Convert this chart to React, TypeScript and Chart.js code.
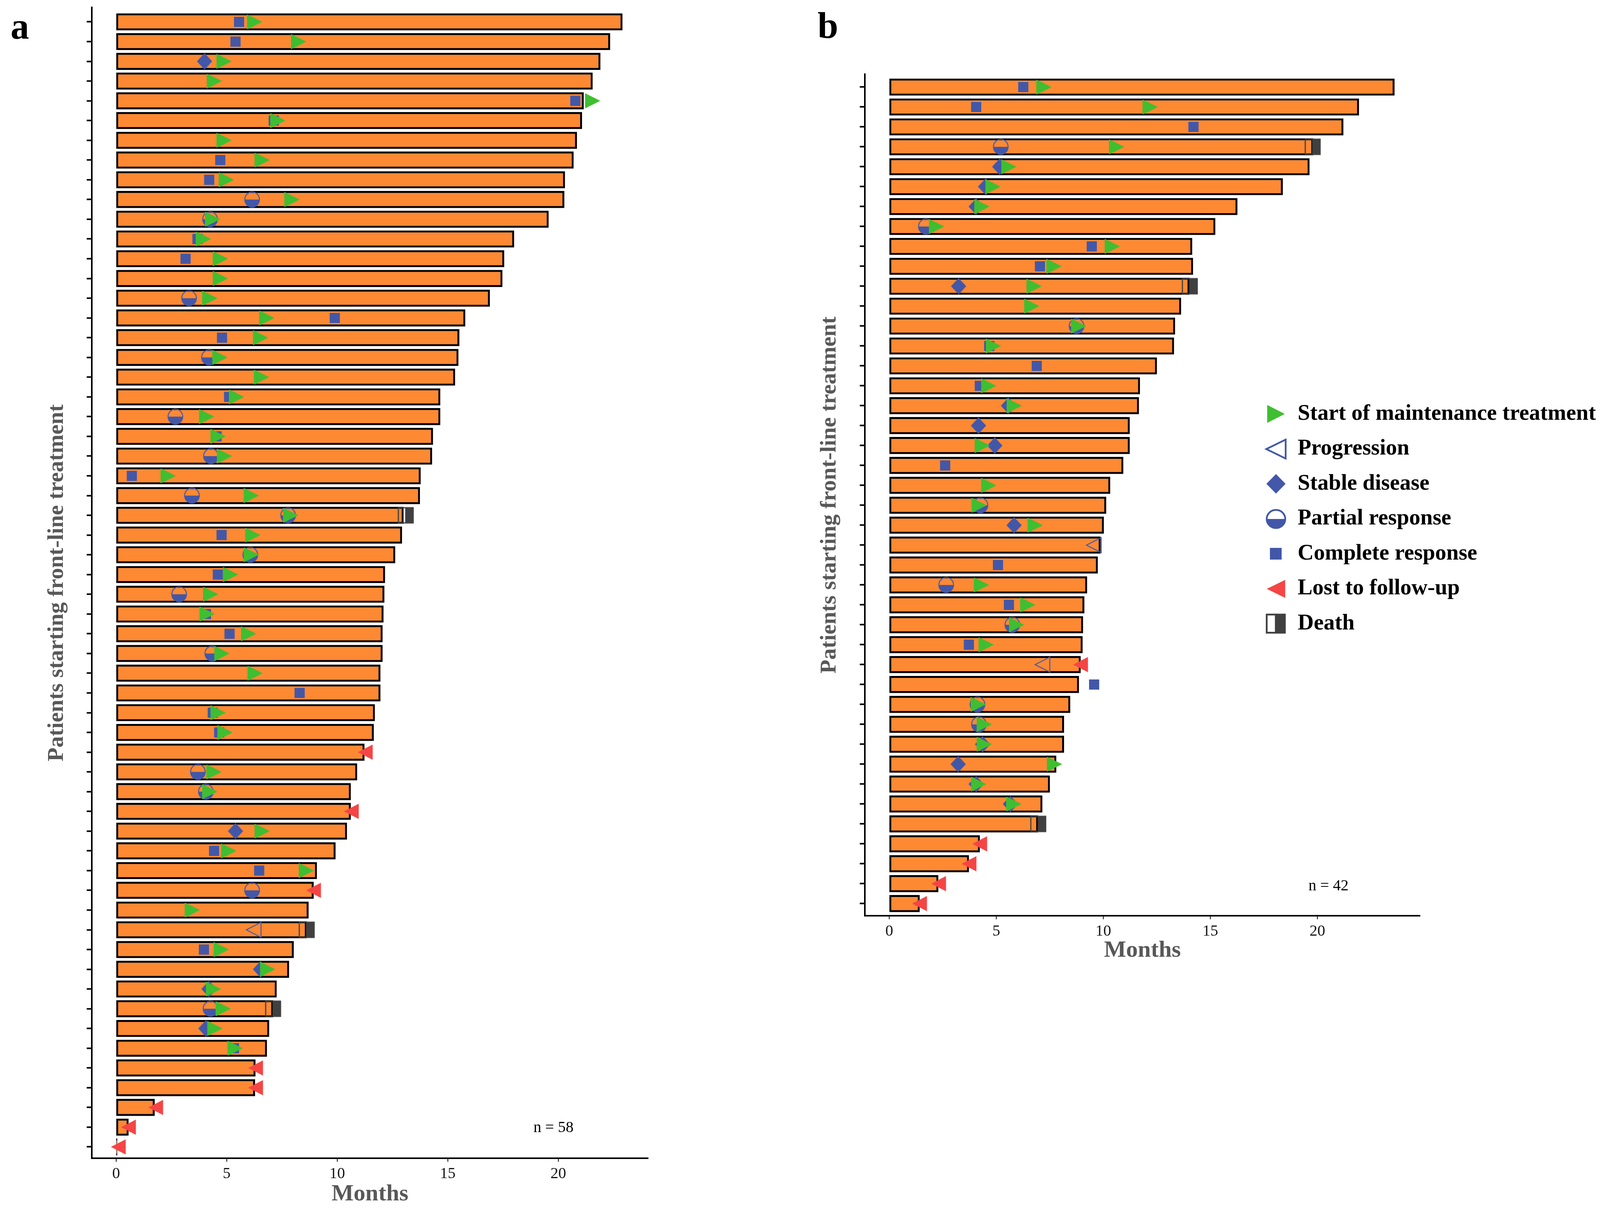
import React, { useEffect, useRef } from 'react';
import { Chart, registerables } from 'chart.js';

Chart.register(...registerables);

type Pt = [number, number]; // [patient row, months]

const X_TICKS = [0, 5, 10, 15, 20];

// ---------------- Panel a (n = 58) ----------------
const A_END = [22.9, 22.34, 21.9, 21.55, 21.15, 21.07, 20.84, 20.69, 20.3, 20.27,
  19.56, 18.0, 17.55, 17.47, 16.9, 15.79, 15.52, 15.48, 15.33, 14.66,
  14.66, 14.33, 14.29, 13.77, 13.74, 13.0, 12.93, 12.62, 12.16, 12.13,
  12.09, 12.05, 12.05, 11.95, 11.95, 11.7, 11.65, 11.23, 10.9, 10.61,
  10.61, 10.44, 9.92, 9.08, 8.93, 8.7, 8.62, 8.03, 7.82, 7.26,
  7.1, 6.92, 6.82, 6.3, 6.28, 1.74, 0.56, 0.05];
const A_START_MAINT: Pt[] = [[1, 6.15], [2, 8.14], [3, 4.77], [4, 4.33], [5, 21.44], [6, 7.2], [7, 4.77], [8, 6.49], [9, 4.87], [10, 7.84],
  [11, 4.25], [12, 3.83], [13, 4.6], [14, 4.6], [15, 4.12], [16, 6.7], [17, 6.42], [18, 4.58], [19, 6.46], [20, 5.33],
  [21, 3.98], [22, 4.5], [23, 4.79], [24, 2.24], [25, 6.0], [26, 7.78], [27, 6.07], [28, 6.0], [29, 5.06], [30, 4.16],
  [31, 4.0], [32, 5.88], [33, 4.67], [34, 6.17], [36, 4.5], [37, 4.81], [39, 4.31], [40, 4.12], [42, 6.49], [43, 4.98],
  [44, 8.49], [46, 3.33], [48, 4.64], [49, 6.74], [50, 4.29], [51, 4.73], [52, 4.35], [53, 5.27]];
const A_COMPLETE: Pt[] = [[1, 5.56], [2, 5.4], [5, 20.77], [6, 7.13], [8, 4.71], [9, 4.21], [12, 3.68], [13, 3.14], [16, 9.89], [17, 4.79],
  [20, 5.11], [22, 4.54], [24, 0.71], [27, 4.77], [29, 4.6], [31, 4.06], [32, 5.13], [35, 8.3], [36, 4.37], [37, 4.66],
  [43, 4.43], [44, 6.47], [48, 3.97], [53, 5.33]];
const A_PARTIAL: Pt[] = [[10, 6.15], [11, 4.25], [15, 3.3], [18, 4.2], [21, 2.68], [23, 4.29], [25, 3.43], [26, 7.78], [28, 6.07], [30, 2.85],
  [33, 4.35], [39, 3.7], [40, 4.06], [45, 6.15], [51, 4.27]];
const A_STABLE: Pt[] = [[3, 4.0], [42, 5.4], [49, 6.53], [50, 4.2], [52, 4.06]];
const A_PROGRESSION: Pt[] = [[47, 6.34]];
const A_LOST: Pt[] = [[38, 11.38], [41, 10.75], [45, 9.04], [54, 6.42], [55, 6.42], [56, 1.9], [57, 0.67], [58, 0.21]];
const A_DEATH: Pt[] = [[26, 13.1], [47, 8.62], [51, 7.1]];

// ---------------- Panel b (n = 42) ----------------
const B_END = [23.6, 21.94, 21.21, 19.8, 19.63, 18.38, 16.26, 15.23, 14.15, 14.19,
  14.02, 13.63, 13.35, 13.3, 12.5, 11.71, 11.66, 11.23, 11.23, 10.93,
  10.32, 10.13, 10.02, 9.87, 9.74, 9.24, 9.11, 9.05, 9.03, 8.94,
  8.86, 8.45, 8.16, 8.16, 7.8, 7.5, 7.15, 6.95, 4.23, 3.72,
  2.29, 1.42];
const B_START_MAINT: Pt[] = [[1, 7.11], [2, 12.07], [4, 10.5], [5, 5.47], [6, 4.73], [7, 4.21], [8, 2.09], [9, 10.3], [10, 7.58], [11, 6.65],
  [12, 6.54], [13, 8.73], [14, 4.75], [16, 4.53], [17, 5.72], [19, 4.23], [21, 4.53], [22, 4.08], [23, 6.7], [26, 4.19],
  [27, 6.35], [28, 5.83], [29, 4.41], [32, 4.04], [33, 4.32], [34, 4.32], [35, 7.6], [36, 4.06], [37, 5.7]];
const B_COMPLETE: Pt[] = [[1, 6.26], [2, 4.06], [3, 14.21], [9, 9.46], [10, 7.04], [14, 4.67], [15, 6.89], [16, 4.23], [20, 2.61], [25, 5.08],
  [27, 5.59], [29, 3.72], [31, 9.57]];
const B_PARTIAL: Pt[] = [[4, 5.21], [8, 1.71], [13, 8.75], [22, 4.26], [26, 2.66], [28, 5.75], [32, 4.12], [33, 4.19]];
const B_STABLE: Pt[] = [[5, 5.16], [6, 4.5], [7, 4.06], [11, 3.24], [17, 5.57], [18, 4.17], [19, 4.93], [23, 5.83], [34, 4.36], [35, 3.22],
  [36, 4.06], [37, 5.66]];
const B_PROGRESSION: Pt[] = [[24, 9.68], [30, 7.28]];
const B_LOST: Pt[] = [[30, 9.05], [39, 4.34], [40, 3.84], [41, 2.42], [42, 1.53]];
const B_DEATH: Pt[] = [[4, 19.78], [11, 14.04], [38, 6.96]];

const LEGEND_LABELS = ['Start of maintenance treatment', 'Progression', 'Stable disease', 'Partial response',
  'Complete response', 'Lost to follow-up', 'Death'];
const LEGEND_KINDS = ['sm', 'prog', 'sd', 'pr', 'cr', 'lf', 'death'];

// ---------------- styles ----------------
const ORANGE = '#FD8933';
const GREEN = '#3FBE31';
const BLUE = '#4357A8';
const RED = '#F54545';
const DARK = '#404040';
const TITLE_GRAY = '#585858';
const SERIF = '"Liberation Serif", "Times New Roman", serif';

type Sz = { w: number; h: number; lw: number };
const CHART_SIZES: Record<string, Sz> = {
  sm: { w: 39, h: 39, lw: 0 }, lf: { w: 38, h: 39, lw: 0 }, prog: { w: 40, h: 41, lw: 2.5 },
  sd: { w: 39, h: 42, lw: 0 }, cr: { w: 26, h: 26, lw: 0 }, pr: { w: 40, h: 41, lw: 2.5 },
  death: { w: 41, h: 42, lw: 3 },
};
const LEGEND_SIZES: Record<string, Sz> = {
  sm: { w: 45, h: 46, lw: 0 }, lf: { w: 47, h: 46, lw: 0 }, prog: { w: 54, h: 53, lw: 4.5 },
  sd: { w: 49, h: 50, lw: 0 }, cr: { w: 30, h: 30, lw: 0 }, pr: { w: 52, h: 51, lw: 4.5 },
  death: { w: 51, h: 51, lw: 4.5 },
};

function markerCanvas(kind: string, s: Sz, centroid: boolean): HTMLCanvasElement {
  const { w, h, lw } = s;
  const tri = kind === 'sm' || kind === 'lf' || kind === 'prog';
  const cw = Math.ceil((tri && centroid ? (4 * w) / 3 : w) + lw + 4);
  const ch = Math.ceil(h + lw + 4);
  const c = document.createElement('canvas');
  c.width = cw;
  c.height = ch;
  const ctx = c.getContext('2d')!;
  const cx = cw / 2;
  const cy = ch / 2;
  ctx.lineJoin = 'miter';
  if (kind === 'sm') {
    const b = centroid ? cx - w / 3 : cx - w / 2;
    ctx.beginPath();
    ctx.moveTo(b, cy - h / 2);
    ctx.lineTo(b + w, cy);
    ctx.lineTo(b, cy + h / 2);
    ctx.closePath();
    ctx.fillStyle = GREEN;
    ctx.fill();
  } else if (kind === 'lf' || kind === 'prog') {
    const b = centroid ? cx + w / 3 : cx + w / 2;
    const ww = kind === 'prog' ? w - lw : w;
    const hh = kind === 'prog' ? h - lw : h;
    const bb = kind === 'prog' ? b - lw / 2 : b;
    ctx.beginPath();
    ctx.moveTo(bb, cy - hh / 2);
    ctx.lineTo(bb - ww, cy);
    ctx.lineTo(bb, cy + hh / 2);
    ctx.closePath();
    if (kind === 'lf') {
      ctx.fillStyle = RED;
      ctx.fill();
    } else {
      ctx.strokeStyle = BLUE;
      ctx.lineWidth = lw;
      ctx.stroke();
    }
  } else if (kind === 'sd') {
    ctx.beginPath();
    ctx.moveTo(cx, cy - h / 2);
    ctx.lineTo(cx + w / 2, cy);
    ctx.lineTo(cx, cy + h / 2);
    ctx.lineTo(cx - w / 2, cy);
    ctx.closePath();
    ctx.fillStyle = BLUE;
    ctx.fill();
  } else if (kind === 'cr') {
    ctx.fillStyle = BLUE;
    ctx.fillRect(cx - w / 2, cy - h / 2, w, h);
  } else if (kind === 'pr') {
    const rx = w / 2 - lw / 2;
    const ry = h / 2 - lw / 2;
    ctx.beginPath();
    ctx.ellipse(cx, cy, rx, ry, 0, 0, Math.PI);
    ctx.closePath();
    ctx.fillStyle = BLUE;
    ctx.fill();
    ctx.beginPath();
    ctx.ellipse(cx, cy, rx, ry, 0, 0, Math.PI * 2);
    ctx.strokeStyle = BLUE;
    ctx.lineWidth = lw;
    ctx.stroke();
  } else if (kind === 'death') {
    const x0 = cx - w / 2;
    const half = w / 2;
    ctx.fillStyle = DARK;
    ctx.fillRect(x0 + half, cy - h / 2, half, h);
    ctx.strokeStyle = DARK;
    ctx.lineWidth = lw;
    ctx.strokeRect(x0 + lw / 2, cy - h / 2 + lw / 2, half - lw / 2, h - lw);
  }
  return c;
}

interface Panel {
  end: number[];
  sm: Pt[]; cr: Pt[]; pr: Pt[]; sd: Pt[]; prog: Pt[]; lf: Pt[]; death: Pt[];
  xMin: number; xMax: number; yMin: number; yMax: number;
  yAxisWidth: number; xAxisHeight: number;
  padding: { left: number; top: number; right: number; bottom: number };
  yTitlePad: number; xTitlePad: number;
  label: { text: string; x: number; y: number };
  nLabel: { text: string; x: number; y: number };
  legend: null | { x: number; textX: number; y0: number; dy: number };
}

const PANEL_A: Panel = {
  end: A_END, sm: A_START_MAINT, cr: A_COMPLETE, pr: A_PARTIAL, sd: A_STABLE, prog: A_PROGRESSION, lf: A_LOST, death: A_DEATH,
  xMin: -1.1, xMax: 24.06, yMin: 0.268, yMax: 58.574,
  yAxisWidth: 235, xAxisHeight: 130,
  padding: { left: 0, top: 19, right: 61, bottom: 0 },
  yTitlePad: 111, xTitlePad: 2,
  label: { text: 'a', x: 27, y: 99 },
  nLabel: { text: 'n = 58', x: 1417, y: 2888 },
  legend: null,
};

const PANEL_B: Panel = {
  end: B_END, sm: B_START_MAINT, cr: B_COMPLETE, pr: B_PARTIAL, sd: B_STABLE, prog: B_PROGRESSION, lf: B_LOST, death: B_DEATH,
  xMin: -1.14, xMax: 24.79, yMin: 0.353, yMax: 42.61,
  yAxisWidth: 214, xAxisHeight: 127,
  padding: { left: 0, top: 190, right: 478, bottom: 0 },
  yTitlePad: 89, xTitlePad: 2,
  label: { text: 'b', x: 93, y: 97 },
  nLabel: { text: 'n = 42', x: 1401, y: 2269 },
  legend: { x: 1266, textX: 1322, y0: 1060, dy: 89.5 },
};

function makeChart(canvas: HTMLCanvasElement, P: Panel): Chart {
  const m: Record<string, HTMLCanvasElement> = {};
  const lm: Record<string, HTMLCanvasElement> = {};
  for (const k of LEGEND_KINDS) {
    m[k] = markerCanvas(k, CHART_SIZES[k], true);
    lm[k] = markerCanvas(k, LEGEND_SIZES[k], false);
  }
  const rows = P.end.map((_, i) => i + 1);
  const pts = (data: Pt[], img: HTMLCanvasElement, order: number, label: string) => ({
    type: 'scatter' as const,
    label,
    data: data.map(([r, v]) => ({ x: v, y: r })),
    pointStyle: img,
    pointRadius: 10,
    pointHoverRadius: 10,
    showLine: false,
    order,
  });

  const textPlugin = {
    id: 'panelText',
    afterDraw(chart: any) {
      const ctx: CanvasRenderingContext2D = chart.ctx;
      ctx.save();
      ctx.fillStyle = '#000';
      ctx.textAlign = 'left';
      ctx.textBaseline = 'alphabetic';
      ctx.font = `bold 95px ${SERIF}`;
      ctx.fillText(P.label.text, P.label.x, P.label.y);
      ctx.font = `40px ${SERIF}`;
      ctx.textAlign = 'center';
      ctx.textBaseline = 'middle';
      ctx.fillText(P.nLabel.text, P.nLabel.x, P.nLabel.y);
      if (P.legend) {
        const L = P.legend;
        ctx.textAlign = 'left';
        ctx.textBaseline = 'middle';
        ctx.font = `bold 57px ${SERIF}`;
        LEGEND_KINDS.forEach((k, i) => {
          const y = L.y0 + i * L.dy;
          const img = lm[k];
          ctx.drawImage(img, Math.round(L.x - img.width / 2), Math.round(y - img.height / 2));
          ctx.fillText(LEGEND_LABELS[i], L.textX, y);
        });
      }
      ctx.restore();
    },
  };

  return new Chart(canvas, {
    type: 'scatter',
    data: {
      datasets: [
        {
          type: 'bar',
          label: 'Follow-up',
          indexAxis: 'y',
          data: P.end.map((v, i) => ({ x: v, y: i + 1 })),
          backgroundColor: ORANGE,
          borderColor: '#000',
          borderWidth: 5,
          borderSkipped: false,
          barThickness: 43,
          order: 100,
        } as any,
        pts(P.cr, m.cr, 50, 'Complete response'),
        pts(P.pr, m.pr, 50, 'Partial response'),
        pts(P.sd, m.sd, 50, 'Stable disease'),
        pts(P.prog, m.prog, 40, 'Progression'),
        pts(P.death, m.death, 30, 'Death'),
        pts(P.lf, m.lf, 20, 'Lost to follow-up'),
        pts(P.sm, m.sm, 10, 'Start of maintenance treatment'),
      ] as any,
    },
    options: {
      animation: false,
      responsive: false,
      devicePixelRatio: 1,
      events: [],
      layout: { padding: P.padding, autoPadding: false } as any,
      plugins: { legend: { display: false }, tooltip: { enabled: false } },
      scales: {
        x: {
          type: 'linear',
          offset: false,
          min: P.xMin,
          max: P.xMax,
          afterBuildTicks: (s: any) => { s.ticks = X_TICKS.map((v) => ({ value: v })); },
          afterFit: (s: any) => { s.height = P.xAxisHeight; },
          ticks: { font: { family: SERIF, size: 40 }, color: '#151515', padding: 7, maxRotation: 0, autoSkip: false },
          grid: { offset: false, drawOnChartArea: false, drawTicks: true, tickLength: 9, tickWidth: 2, tickColor: '#000' },
          border: { display: true, color: '#000', width: 4 },
          title: {
            display: true, text: 'Months', color: TITLE_GRAY,
            font: { family: SERIF, size: 60, weight: 'bold' },
            padding: { top: 0, bottom: P.xTitlePad },
          },
        },
        y: {
          type: 'linear',
          offset: false,
          reverse: true,
          min: P.yMin,
          max: P.yMax,
          afterBuildTicks: (s: any) => { s.ticks = rows.map((v) => ({ value: v })); },
          afterFit: (s: any) => { s.width = P.yAxisWidth; },
          ticks: { display: false },
          grid: { offset: false, drawOnChartArea: false, drawTicks: true, tickLength: 13, tickWidth: 4, tickColor: '#000' },
          border: { display: true, color: '#000', width: 4 },
          title: {
            display: true, text: 'Patients starting front-line treatment', color: TITLE_GRAY,
            font: { family: SERIF, size: 58, weight: 'bold' },
            padding: { top: P.yTitlePad, bottom: 0 },
          },
        },
      },
    } as any,
    plugins: [textPlugin],
  });
}

export default function App() {
  const aRef = useRef<HTMLCanvasElement>(null);
  const bRef = useRef<HTMLCanvasElement>(null);
  useEffect(() => {
    const ca = makeChart(aRef.current!, PANEL_A);
    const cb = makeChart(bRef.current!, PANEL_B);
    return () => {
      ca.destroy();
      cb.destroy();
    };
  }, []);
  return (
    <div style={{ position: 'absolute', left: 0, top: 0, width: 4113, height: 3096, background: '#fff', overflow: 'hidden' }}>
      <canvas ref={aRef} width={1720} height={3096}
        style={{ position: 'absolute', left: 0, top: 0, width: 1720, height: 3096 }} />
      <canvas ref={bRef} width={2113} height={2472}
        style={{ position: 'absolute', left: 2000, top: 0, width: 2113, height: 2472 }} />
    </div>
  );
}
